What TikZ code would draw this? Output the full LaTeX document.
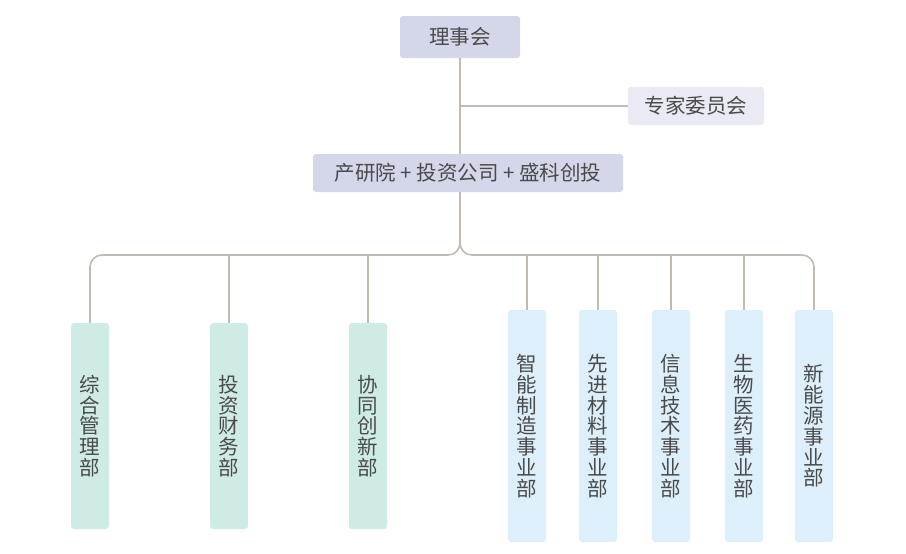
\documentclass[tikz,border=0pt]{standalone}
\usepackage{fontspec}
\setmainfont{Noto Sans CJK SC}
\definecolor{topfill}{HTML}{D4D6EA}
\definecolor{sidefill}{HTML}{EAEAF5}
\definecolor{mintfill}{HTML}{CFEBE5}
\definecolor{bluefill}{HTML}{DDEFFA}
\definecolor{linkgray}{HTML}{C2BBB3}
\definecolor{textgray}{HTML}{4A4A4A}
\tikzset{
  box/.style={rectangle,rounded corners=3pt,inner sep=0pt,text=textgray,
    font=\fontsize{20.5}{20.8}\selectfont,align=center},
  headbox/.style={box,fill=topfill},
  sidebox/.style={box,fill=sidefill},
  deptbox/.style={box,fill=mintfill,minimum width=38pt,minimum height=206pt},
  unitbox/.style={box,fill=bluefill,minimum width=38pt,minimum height=232pt},
  link/.style={draw=linkgray,line width=1.6pt}
}
\begin{document}
\begin{tikzpicture}[x=1pt,y=-1pt]
  \useasboundingbox (0,0) rectangle (906,554);
  \node[headbox,minimum width=120pt,minimum height=42pt] (lsh) at (460,37)  {理事会};
  \node[sidebox,minimum width=136pt,minimum height=38pt] (zj)  at (696,106) {专家委员会};
  \node[headbox,minimum width=310pt,minimum height=38pt] (cy)  at (468,173) {产研院 + 投资公司 + 盛科创投};
  \node[deptbox] (z1) at (90,426)  {综\\合\\管\\理\\部};
  \node[deptbox] (z2) at (229,426) {投\\资\\财\\务\\部};
  \node[deptbox] (z3) at (368,426) {协\\同\\创\\新\\部};
  \node[unitbox] (s1) at (527,426) {智\\能\\制\\造\\事\\业\\部};
  \node[unitbox] (s2) at (598,426) {先\\进\\材\\料\\事\\业\\部};
  \node[unitbox] (s3) at (671,426) {信\\息\\技\\术\\事\\业\\部};
  \node[unitbox] (s4) at (744,426) {生\\物\\医\\药\\事\\业\\部};
  \node[unitbox] (s5) at (814,426) {新\\能\\源\\事\\业\\部};
  \coordinate (brk) at (460,106);
  \coordinate (hub) at (460,255);
  \draw[link] (lsh.south) -- (lsh.south |- cy.north);
  \draw[link] (brk) -- (zj.west);
  \draw[link,rounded corners=12pt] (hub |- cy.south) -- (hub) -| (z1.north);
  \draw[link,rounded corners=12pt] (hub |- cy.south) -- (hub) -| (s5.north);
  \foreach \d in {z2,z3,s1,s2,s3,s4}
    \draw[link] (\d.north) -- (\d.north |- hub);
\end{tikzpicture}
\end{document}
